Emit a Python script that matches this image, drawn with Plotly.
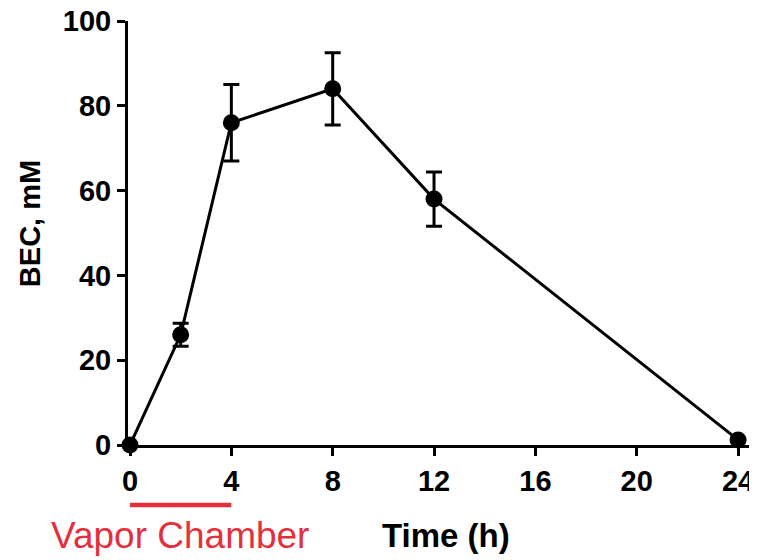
import plotly.graph_objects as go

time_h = [0, 2, 4, 8, 12, 24]
bec_mm = [0, 26, 76, 84, 58, 1.2]
bec_sem = [0, 2.7, 9, 8.5, 6.4, 0]
x_ticks = [0, 4, 8, 12, 16, 20, 24]
y_ticks = [0, 20, 40, 60, 80, 100]
chamber_start, chamber_end = 0, 4

FONT = "Arial, Liberation Sans, Helvetica, sans-serif"
RED = "#e3303c"

fig = go.Figure()
fig.add_trace(go.Scatter(
    x=time_h, y=bec_mm,
    mode="lines+markers",
    line=dict(color="black", width=3),
    marker=dict(color="black", size=17),
    error_y=dict(type="data", array=bec_sem, visible=True, color="black", thickness=3, width=8),
    cliponaxis=False,
    showlegend=False,
))

fig.add_shape(type="line", xref="x", yref="paper",
              x0=chamber_start, x1=chamber_end, y0=-0.1414, y1=-0.1414,
              line=dict(color=RED, width=4.5))

fig.add_annotation(text="Vapor Chamber", xref="paper", yref="paper",
                   x=0.0833, y=-0.213, xanchor="center", yanchor="middle",
                   showarrow=False, font=dict(family=FONT, size=37, color=RED))
fig.add_annotation(text="<b>Time (h)</b>", xref="paper", yref="paper",
                   x=0.5096, y=-0.213, xanchor="center", yanchor="middle",
                   showarrow=False, font=dict(family=FONT, size=33, color="black"))
fig.add_annotation(text="<b>BEC, mM</b>", xref="paper", yref="paper",
                   x=-0.157, y=0.521, xanchor="center", yanchor="middle", textangle=-90,
                   showarrow=False, font=dict(family=FONT, size=29, color="black"))

fig.update_xaxes(range=[-0.079, 24.55], tickvals=x_ticks, ticks="outside", ticklen=8, tickwidth=3,
                 tickcolor="black", showline=True, linewidth=3, linecolor="black",
                 showgrid=False, zeroline=False, automargin=False, ticklabeloverflow="allow",
                 tickfont=dict(family=FONT, size=29, color="black", weight="bold"))
fig.update_yaxes(range=[0, 100], tickvals=y_ticks, ticks="outside", ticklen=8, tickwidth=3,
                 tickcolor="black", showline=True, linewidth=3, linecolor="black",
                 showgrid=False, zeroline=False, automargin=False, ticklabeloverflow="allow",
                 tickfont=dict(family=FONT, size=29, color="black", weight="bold"))

fig.update_layout(width=757, height=560, margin=dict(l=120, r=13, t=13, b=123, autoexpand=False),
                  plot_bgcolor="white", paper_bgcolor="white")

fig.write_html("out.html")
